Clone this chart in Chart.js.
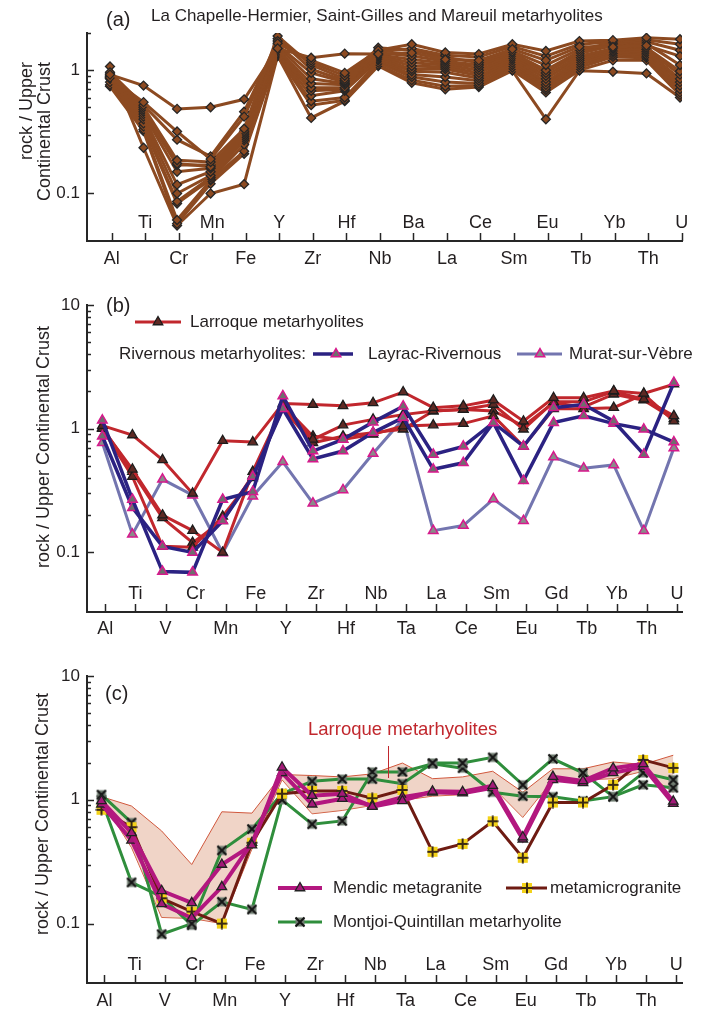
<!DOCTYPE html>
<html>
<head>
<meta charset="utf-8">
<title>Upper continental crust-normalised multi-element diagrams</title>
<script src="https://cdn.jsdelivr.net/npm/chart.js@4.4.1/dist/chart.umd.min.js"></script>
<style>
  html, body { margin: 0; padding: 0; background: #ffffff; }
  #wrap { position: relative; width: 708px; height: 1010px; }
  canvas { position: absolute; left: 0; }
</style>
</head>
<body>
<div id="wrap">
  <canvas id="panelA" width="708" height="270" style="top:0px"></canvas>
  <canvas id="panelB" width="708" height="370" style="top:270px"></canvas>
  <canvas id="panelC" width="708" height="370" style="top:640px"></canvas>
</div>
<script>
// ---------- element order on the x axis ----------
const elementsA  = ['Al','Ti','Cr','Mn','Fe','Y','Zr','Hf','Nb','Ba','La','Ce','Sm','Eu','Tb','Yb','Th','U'];
const elementsBC = ['Al','Ti','V','Cr','Mn','Fe','Y','Zr','Hf','Nb','Ta','La','Ce','Sm','Eu','Gd','Tb','Yb','Th','U'];

// ---------- y axis ticks (log) ----------
const yTicksA  = [0.1,0.2,0.3,0.4,0.5,0.6,0.7,0.8,0.9,1,2];
const yTicksBC = [0.1,0.2,0.3,0.4,0.5,0.6,0.7,0.8,0.9,1,2,3,4,5,6,7,8,9,10];
const yLabels  = [0.1, 1, 10];

// ---------- (a) La Chapelle-Hermier, Saint-Gilles and Mareuil metarhyolites ----------
//                 Al    Ti    Cr     Mn    Fe     Y     Zr    Hf    Nb    Ba    La    Ce    Sm    Eu    Tb    Yb    Th    U
const vendee01 = [0.92, 0.75, 0.485, 0.50, 0.58,  1.50, 1.26, 1.36, 1.35, 1.38, 1.22, 1.20, 1.48, 1.20, 1.55, 1.54, 1.58, 1.30];
const vendee02 = [0.87, 0.55, 0.318, 0.19, 0.42,  1.65, 1.20, 0.95, 1.45, 1.62, 1.39, 1.35, 1.62, 1.43, 1.72, 1.75, 1.83, 1.78];
const vendee03 = [0.96, 0.52, 0.273, 0.20, 0.46,  1.72, 1.15, 0.90, 1.40, 1.50, 1.32, 1.28, 1.55, 1.30, 1.62, 1.70, 1.76, 1.62];
const vendee04 = [0.89, 0.50, 0.186, 0.18, 0.335, 1.89, 1.10, 0.85, 1.52, 1.45, 1.27, 1.15, 1.42, 1.10, 1.48, 1.66, 1.70, 1.45];
const vendee05 = [0.90, 0.48, 0.175, 0.165,0.32,  1.80, 1.02, 0.82, 1.38, 1.30, 1.18, 1.10, 1.38, 1.00, 1.42, 1.62, 1.64, 1.10];
const vendee06 = [0.88, 0.46, 0.170, 0.17, 0.31,  1.60, 0.95, 0.80, 1.33, 1.22, 1.14, 1.05, 1.33, 0.95, 1.36, 1.58, 1.52, 0.98];
const vendee07 = [0.93, 0.44, 0.150, 0.16, 0.30,  1.55, 0.85, 0.78, 1.30, 1.15, 1.10, 1.00, 1.28, 0.90, 1.30, 1.50, 1.47, 0.92];
const vendee08 = [0.87, 0.42, 0.118, 0.15, 0.29,  1.46, 0.78, 0.76, 1.28, 1.08, 1.06, 0.95, 1.24, 0.85, 1.25, 1.46, 1.42, 0.85];
const vendee09 = [0.86, 0.40, 0.100, 0.14, 0.28,  1.42, 0.72, 0.72, 1.25, 1.02, 1.02, 0.90, 1.20, 0.80, 1.20, 1.42, 1.38, 0.80];
const vendee10 = [0.85, 0.37, 0.086, 0.135,0.27,  1.38, 0.68, 0.70, 1.22, 0.98, 0.96, 0.86, 1.15, 0.76, 1.15, 1.38, 1.33, 0.75];
const vendee11 = [0.80, 0.35, 0.083, 0.13, 0.25,  1.35, 0.62, 0.68, 1.20, 0.92, 0.88, 0.82, 1.10, 0.72, 1.10, 1.33, 1.30, 0.70];
const vendee12 = [0.76, 0.33, 0.061, 0.128,0.22,  1.32, 0.56, 0.60, 1.15, 0.88, 0.80, 0.78, 1.05, 0.69, 1.05, 1.28, 1.26, 0.66];
const vendee13 = [0.74, 0.32, 0.057, 0.12, 0.21,  1.30, 0.52, 0.57, 1.10, 0.83, 0.74, 0.75, 1.00, 0.66, 1.00, 1.20, 1.20, 0.63];
const vendee14 = [1.07, 0.235,0.055, 0.10, 0.119, 1.31, 0.41, 0.56, 1.08, 0.79, 0.70, 0.73, 0.99, 0.40, 0.99, 0.97, 0.94, 0.60];

// ---------- (b) Larroque and Rivernous metarhyolites ----------
//                 Al    Ti    V     Cr    Mn    Fe    Y     Zr    Hf    Nb    Ta    La    Ce    Sm    Eu    Gd    Tb    Yb    Th    U
const larroque1 = [1.06, 0.89, 0.56, 0.30, 0.80, 0.78, 1.60, 1.57, 1.53, 1.62, 1.98, 1.48, 1.53, 1.70, 1.15, 1.78, 1.78, 2.02, 1.93, 2.29];
const larroque2 = [1.00, 0.47, 0.20, 0.15, 0.10, 0.45, 1.50, 0.82, 1.07, 1.19, 1.30, 1.39, 1.43, 1.57, 0.99, 1.65, 1.65, 2.00, 1.73, 1.27];
const larroque3 = [1.00, 0.41, 0.112,0.11, 0.196,0.40, 1.55, 0.87, 0.82, 0.90, 1.05, 1.07, 1.10, 1.27, 0.72, 1.45, 1.45, 1.48, 1.90, 1.15];
const larroque4 = [1.02, 0.45, 0.19, 0.12, 0.18, 0.42, 1.45, 0.77, 0.87, 0.93, 0.99, 1.39, 1.43, 1.39, 1.05, 1.62, 1.50, 1.90, 1.70, 1.20];
const layrac1   = [1.17, 0.268,0.070,0.069,0.268,0.31, 1.84, 0.66, 0.82, 1.13, 1.52, 0.62, 0.72, 1.12, 0.72, 1.48, 1.57, 1.15, 0.62, 2.36];
const layrac2   = [0.87, 0.23, 0.112,0.10, 0.18, 0.41, 1.45, 0.57, 0.66, 0.93, 1.23, 0.47, 0.53, 1.12, 0.38, 1.12, 1.27, 1.10, 0.99, 0.78];
const murat1    = [0.77, 0.14, 0.39, 0.29, 0.099,0.285,0.54, 0.25, 0.32, 0.63, 1.20, 0.15, 0.165,0.27, 0.18, 0.59, 0.48, 0.51, 0.15, 0.70];

// ---------- (c) Mendic, metamicrogranite, Montjoi-Quintillan ----------
const mendic1   = [0.98, 0.54, 0.184,0.147,0.30, 0.43, 1.83, 1.08, 1.12, 0.88, 0.98, 1.17, 1.16, 1.30, 0.50, 1.54, 1.42, 1.80, 1.95, 0.97];
const mendic2   = [0.92, 0.47, 0.144,0.111,0.198,0.45, 1.65, 0.92, 1.02, 0.90, 1.05, 1.15, 1.13, 1.25, 0.48, 1.45, 1.37, 1.65, 1.85, 0.93];
const microgr1  = [0.83, 0.60, 0.160,0.125,0.10, 0.45, 1.12, 1.18, 1.18, 1.03, 1.20, 0.38, 0.44, 0.67, 0.34, 0.95, 0.95, 1.32, 2.10, 1.81];
const montjoi1  = [1.10, 0.655,0.082,0.100,0.39, 0.58, 1.12, 1.41, 1.47, 1.47, 1.35, 1.98, 1.98, 2.20, 1.32, 2.14, 1.65, 1.06, 1.65, 1.45];
const montjoi2  = [1.00, 0.215,0.165,0.097,0.15, 0.13, 1.00, 0.635,0.675,1.68, 1.68, 1.95, 1.80, 1.15, 1.07, 1.06, 0.98, 1.06, 1.32, 1.25];

// ---------- shared look ----------
const INK  = '#231f20';
const AXIS = '#262626';
const FONT_FAMILY = '"Liberation Sans", Arial, Helvetica, sans-serif';
Chart.defaults.font.family = FONT_FAMILY;
Chart.defaults.color = INK;

function markerImage(kind) {
  const c = document.createElement('canvas');
  c.width = 12; c.height = 12;
  const g = c.getContext('2d');
  if (kind === 'plus') {
    g.fillStyle = '#F3D21A';
    g.fillRect(1, 1, 10, 10);
    g.strokeStyle = '#3b2a12'; g.lineWidth = 2;
    g.beginPath(); g.moveTo(6, 0.5); g.lineTo(6, 11.5); g.moveTo(0.5, 6); g.lineTo(11.5, 6); g.stroke();
  } else {
    g.fillStyle = '#6f7c70';
    g.fillRect(1.5, 1.5, 9, 9);
    g.strokeStyle = '#141414'; g.lineWidth = 2;
    g.beginPath(); g.moveTo(1.5, 1.5); g.lineTo(10.5, 10.5); g.moveTo(10.5, 1.5); g.lineTo(1.5, 10.5); g.stroke();
  }
  return c;
}
const plusMark  = markerImage('plus');
const crossMark = markerImage('cross');

const styleVendee   = { borderColor: '#8C4A21', borderWidth: 3, pointStyle: 'rectRot', pointRadius: 4.5,
                        pointBackgroundColor: '#8C4A21', pointBorderColor: '#262626', pointBorderWidth: 1.3 };
const styleLarroque = { borderColor: '#C1272D', borderWidth: 3, pointStyle: 'triangle', pointRadius: 5.5,
                        pointBackgroundColor: '#5e2a24', pointBorderColor: '#1c1c1c', pointBorderWidth: 1.3 };
const styleLayrac   = { borderColor: '#2B2282', borderWidth: 3.5, pointStyle: 'triangle', pointRadius: 5.5,
                        pointBackgroundColor: '#6e6e6e', pointBorderColor: '#D6198C', pointBorderWidth: 1.5 };
const styleMurat    = { borderColor: '#7375AF', borderWidth: 3, pointStyle: 'triangle', pointRadius: 5.5,
                        pointBackgroundColor: '#8a8a8a', pointBorderColor: '#D6198C', pointBorderWidth: 1.5 };
const styleMendic   = { borderColor: '#B3177F', borderWidth: 4, pointStyle: 'triangle', pointRadius: 5.5,
                        pointBackgroundColor: '#A31A78', pointBorderColor: '#222222', pointBorderWidth: 1.3 };
const styleMicro    = { borderColor: '#6E1B12', borderWidth: 3, pointStyle: plusMark, pointRadius: 6 };
const styleMontjoi  = { borderColor: '#2F8E3C', borderWidth: 3, pointStyle: crossMark, pointRadius: 6 };
const BAND_EDGE = '#D0573C';

function series(values, style) {
  return Object.assign({ data: values.map((v, i) => ({ x: i, y: v })), tension: 0, fill: false }, style);
}

// Larroque envelope for panel (c), from the Larroque analyses of panel (b)
const larroqueSet = [larroque1, larroque2, larroque3, larroque4];
const larroqueMax = elementsBC.map((_, i) => Math.max(...larroqueSet.map(s => s[i])));
const larroqueMin = elementsBC.map((_, i) => Math.min(...larroqueSet.map(s => s[i])));

// ---------- decorations: inward ticks, upper label row, titles, legends ----------
function isLabelled(v) { return yLabels.some(l => Math.abs(l - v) < 1e-9); }

const decor = {
  id: 'decor',
  beforeDatasetsDraw(chart, args, o) {
    const ctx = chart.ctx, xs = chart.scales.x, ys = chart.scales.y, a = chart.chartArea;
    ctx.save();
    ctx.strokeStyle = AXIS; ctx.lineWidth = 1.5;
    o.cats.forEach((c, i) => {
      const px = Math.round(xs.getPixelForValue(i + o.shift)) + 0.5;
      ctx.beginPath(); ctx.moveTo(px, a.bottom); ctx.lineTo(px, a.bottom - 8); ctx.stroke();
    });
    ys.ticks.forEach(t => {
      const py = Math.round(ys.getPixelForValue(t.value)) + 0.5;
      ctx.beginPath(); ctx.moveTo(a.left, py); ctx.lineTo(a.left + (isLabelled(t.value) ? 7 : 4), py); ctx.stroke();
    });
    ctx.restore();
  },
  afterDraw(chart, args, o) {
    const ctx = chart.ctx, xs = chart.scales.x, a = chart.chartArea;
    ctx.save();
    // odd-position element names sit just above the axis
    ctx.fillStyle = INK; ctx.font = '18px ' + FONT_FAMILY;
    ctx.textAlign = 'center'; ctx.textBaseline = 'middle';
    o.cats.forEach((c, i) => {
      if (i % 2 === 1) ctx.fillText(c, xs.getPixelForValue(i + o.shift), a.bottom - 18);
    });
    // free text
    (o.texts || []).forEach(t => {
      ctx.save();
      ctx.fillStyle = t.color || INK;
      ctx.font = t.size + 'px ' + FONT_FAMILY;
      ctx.textAlign = t.align || 'left'; ctx.textBaseline = 'middle';
      ctx.translate(t.x, t.y);
      if (t.rotate) ctx.rotate(-Math.PI / 2);
      ctx.fillText(t.text, 0, 0);
      ctx.restore();
    });
    // leader lines
    (o.leaders || []).forEach(l => {
      ctx.strokeStyle = l.color; ctx.lineWidth = 1;
      ctx.beginPath(); ctx.moveTo(l.x1, l.y1); ctx.lineTo(l.x2, l.y2); ctx.stroke();
    });
    // legend samples
    (o.samples || []).forEach(s => {
      const st = s.style;
      ctx.strokeStyle = st.borderColor; ctx.lineWidth = st.borderWidth;
      ctx.beginPath(); ctx.moveTo(s.x1, s.y); ctx.lineTo(s.x2, s.y); ctx.stroke();
      ctx.fillStyle = st.pointBackgroundColor || '#000';
      ctx.strokeStyle = st.pointBorderColor || '#000';
      ctx.lineWidth = st.pointBorderWidth || 0;
      Chart.helpers.drawPoint(ctx, { pointStyle: st.pointStyle, radius: st.pointRadius, rotation: 0,
                                     borderWidth: st.pointBorderWidth || 0 }, s.mx, s.y);
    });
    ctx.restore();
  }
};

function panelOptions(cfg) {
  return {
    responsive: false,
    animation: false,
    devicePixelRatio: 1,
    layout: { padding: { left: 0, right: 26, top: cfg.top, bottom: 0 } },
    plugins: {
      legend: { display: false },
      tooltip: { enabled: false },
      decor: cfg.decor
    },
    scales: {
      x: {
        type: 'linear', min: cfg.xmin, max: cfg.xmax,
        afterFit: s => { s.height = cfg.xh; },
        afterBuildTicks: s => { s.ticks = cfg.cats.map((c, i) => ({ value: i + cfg.shift })).filter((t, i) => i % 2 === 0); },
        ticks: { autoSkip: false, maxRotation: 0, minRotation: 0, padding: cfg.xpad, color: INK,
                 font: { size: 18 }, callback: v => cfg.cats[Math.round(v - cfg.shift)] },
        grid: { display: false, drawTicks: false },
        border: { display: true, color: AXIS, width: 2 }
      },
      y: {
        type: 'logarithmic', min: cfg.ymin, max: cfg.ymax,
        afterFit: s => { s.width = 87; },
        afterBuildTicks: s => { s.ticks = cfg.yticks.map(v => ({ value: v })); },
        ticks: { autoSkip: false, padding: 7, color: INK, font: { size: 17 },
                 callback: v => { const l = yLabels.find(q => Math.abs(q - v) < 1e-9); return l === undefined ? '' : String(l); } },
        grid: { display: false, drawTicks: false },
        border: { display: true, color: AXIS, width: 2 }
      }
    }
  };
}

// ---------- (a) ----------
new Chart(document.getElementById('panelA'), {
  type: 'line',
  data: {
    datasets: [vendee01, vendee02, vendee03, vendee04, vendee05, vendee06, vendee07,
               vendee08, vendee09, vendee10, vendee11, vendee12, vendee13, vendee14]
      .map(v => series(v, styleVendee))
  },
  options: panelOptions({
    cats: elementsA, shift: 0.05, xmin: -0.686, xmax: 17.06, xh: 29, xpad: 7, top: 33,
    ymin: 0.0412, ymax: 2, yticks: yTicksA,
    decor: {
      cats: elementsA, shift: 0.05,
      texts: [
        { text: '(a)', x: 106, y: 20, size: 20 },
        { text: 'La Chapelle-Hermier, Saint-Gilles and Mareuil metarhyolites', x: 151, y: 16, size: 17 },
        { text: 'rock / Upper', x: 27, y: 62, size: 18, rotate: true, align: 'right' },
        { text: 'Continental Crust', x: 45, y: 62, size: 18, rotate: true, align: 'right' }
      ]
    }
  }),
  plugins: [decor]
});

// ---------- (b) ----------
new Chart(document.getElementById('panelB'), {
  type: 'line',
  data: {
    datasets: [
      series(layrac1, styleLayrac), series(layrac2, styleLayrac),
      series(larroque1, styleLarroque), series(larroque2, styleLarroque),
      series(larroque3, styleLarroque), series(larroque4, styleLarroque),
      series(murat1, styleMurat)
    ]
  },
  options: panelOptions({
    cats: elementsBC, shift: 0.1, xmin: -0.51, xmax: 19.27, xh: 28, xpad: 6, top: 35,
    ymin: 0.033, ymax: 10, yticks: yTicksBC,
    decor: {
      cats: elementsBC, shift: 0.1,
      texts: [
        { text: '(b)', x: 106, y: 36, size: 20 },
        { text: 'rock / Upper Continental Crust', x: 44, y: 177, size: 18, rotate: true, align: 'center' },
        { text: 'Larroque metarhyolites', x: 190, y: 52, size: 17 },
        { text: 'Rivernous metarhyolites:', x: 119, y: 84, size: 17 },
        { text: 'Layrac-Rivernous', x: 368, y: 84, size: 17 },
        { text: 'Murat-sur-Vèbre', x: 569, y: 84, size: 17 }
      ],
      samples: [
        { style: styleLarroque, x1: 135, x2: 181, mx: 158, y: 52 },
        { style: styleLayrac, x1: 313, x2: 353, mx: 336, y: 84 },
        { style: styleMurat, x1: 517, x2: 562, mx: 540, y: 84 }
      ]
    }
  }),
  plugins: [decor]
});

// ---------- (c) ----------
new Chart(document.getElementById('panelC'), {
  type: 'line',
  data: {
    datasets: [
      series(mendic1, styleMendic), series(mendic2, styleMendic),
      series(microgr1, styleMicro),
      series(montjoi1, styleMontjoi), series(montjoi2, styleMontjoi),
      series(larroqueMax, { borderColor: BAND_EDGE, borderWidth: 1, pointRadius: 0,
                            backgroundColor: 'rgba(222,160,130,0.45)', fill: '+1' }),
      series(larroqueMin, { borderColor: BAND_EDGE, borderWidth: 1, pointRadius: 0 })
    ]
  },
  options: panelOptions({
    cats: elementsBC, shift: 0.1, xmin: -0.48, xmax: 19.29, xh: 27, xpad: 7.5, top: 36,
    ymin: 0.0331, ymax: 10, yticks: yTicksBC,
    decor: {
      cats: elementsBC, shift: 0.1,
      texts: [
        { text: '(c)', x: 105, y: 54, size: 20 },
        { text: 'rock / Upper Continental Crust', x: 43, y: 174, size: 18, rotate: true, align: 'center' },
        { text: 'Larroque metarhyolites', x: 308, y: 90, size: 18.5, color: '#C1272D' },
        { text: 'Mendic metagranite', x: 333, y: 248, size: 17 },
        { text: 'metamicrogranite', x: 550, y: 248, size: 17 },
        { text: 'Montjoi-Quintillan metarhyolite', x: 333, y: 282, size: 17 }
      ],
      leaders: [ { x1: 388.5, y1: 106, x2: 388.5, y2: 138, color: '#C1272D' } ],
      samples: [
        { style: styleMendic, x1: 278, x2: 322, mx: 300, y: 248 },
        { style: styleMicro, x1: 506, x2: 547, mx: 527, y: 248 },
        { style: styleMontjoi, x1: 278, x2: 322, mx: 300, y: 282 }
      ]
    }
  }),
  plugins: [decor]
});
</script>
</body>
</html>
